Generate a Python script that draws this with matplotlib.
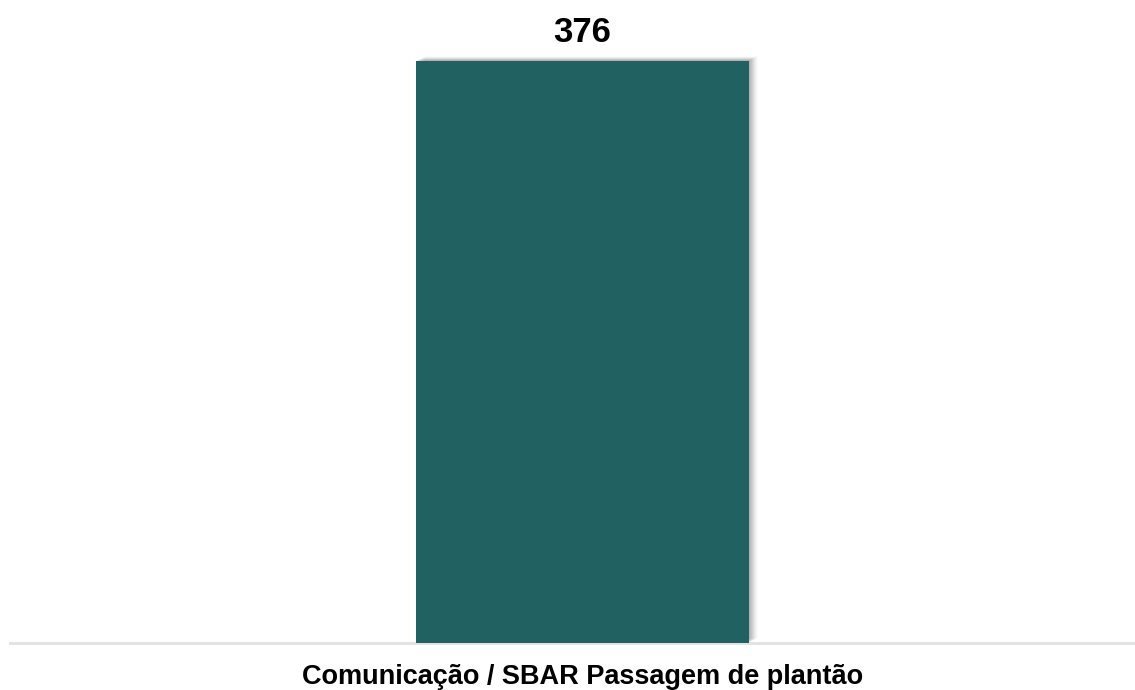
import matplotlib
matplotlib.use("Agg")
import matplotlib.pyplot as plt
import matplotlib.patheffects as pe

categories = ["Comunicação / SBAR Passagem de plantão"]
values = [376]

plt.rcParams['font.family'] = ['Liberation Sans', 'DejaVu Sans']

fig = plt.figure(figsize=(11.35, 6.9), dpi=100)
ax = fig.add_axes([10/1135, 47/690, 1125/1135, 623/690])

shadow = []
for dx, dy, a in [(1, 1, 0.05), (2, 1, 0.05), (3, 2, 0.05), (4, 2, 0.045), (5, 3, 0.04),
                  (6, 3, 0.035), (7, 4, 0.03), (8, 4, 0.02), (9, 5, 0.015)]:
    shadow.append(pe.SimplePatchShadow(offset=(dx * 0.72, dy * 0.72), shadow_rgbFace='black', alpha=a))
shadow.append(pe.Normal())

x = list(range(len(categories)))
bars = ax.bar(x, values, width=0.592, color='#216161', zorder=3)
for b in bars:
    b.set_path_effects(shadow)

for xi, v in zip(x, values):
    ax.text(xi, v + 12.5, str(v), ha='center', va='baseline', fontsize=25, fontweight='bold', color='black')

ax.set_xlim(-1.0178, 0.9822)
ax.set_ylim(0, 376 * 623 / 582)
ax.set_xticks(x)
ax.set_xticklabels(categories, fontsize=19.5, fontweight='bold')
ax.tick_params(axis='x', length=0, pad=15)
ax.set_yticks([])
for s in ['top', 'right', 'left']:
    ax.spines[s].set_visible(False)
ax.spines['bottom'].set_color('#e3e3e3')
ax.spines['bottom'].set_linewidth(2.2)

fig.savefig('out.png', dpi=100, facecolor='white')
